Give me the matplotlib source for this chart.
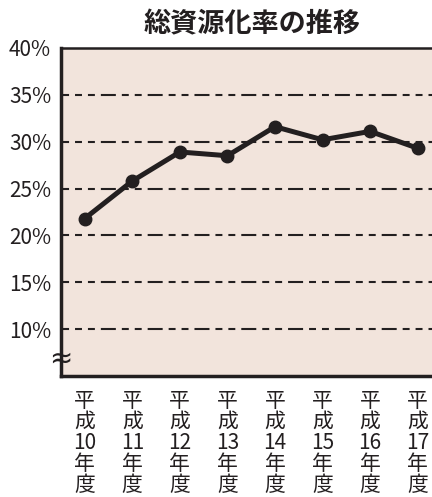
import matplotlib.pyplot as plt

plt.rcParams['font.family'] = ['Noto Sans CJK JP', 'DejaVu Sans']
plt.rcParams['lines.scale_dashes'] = False

# data
years = ['10', '11', '12', '13', '14', '15', '16', '17']
rates = [21.8, 25.8, 28.9, 28.5, 31.6, 30.2, 31.1, 29.3]
yticks = [10, 15, 20, 25, 30, 35, 40]

fig = plt.figure(figsize=(4.32, 4.97), dpi=100)
ax = fig.add_axes([0.141, 0.2435, 0.859, 0.66])
ax.set_facecolor('#f2e4dc')

# dashed grid lines: long, short, short
for y in yticks[:-1]:
    ax.axhline(y, color='#231f20', lw=1.5,
               linestyle=(5.0, (10.8, 4.3, 5.0, 4.3, 5.0, 4.3)), zorder=1)

x = list(range(len(years)))
ax.plot(x, rates, color='#231f20', lw=3.6, marker='o', ms=9, zorder=3, clip_on=False)

ax.set_xlim(-0.5, 7.3)
ax.set_ylim(5, 40)
ax.set_yticks(yticks)
ax.set_yticklabels([f'{v}%' for v in yticks], fontsize=15, color='#231f20')
ax.set_xticks(x)
ax.set_xticklabels(['平\n成\n' + y + '\n年\n度' for y in years], fontsize=15,
                   linespacing=0.95, color='#231f20')
ax.tick_params(length=0)
ax.tick_params(axis='y', pad=7)
ax.tick_params(axis='x', pad=10)

for s in ['left', 'bottom', 'top']:
    ax.spines[s].set_linewidth(2.5)
    ax.spines[s].set_color('#231f20')
ax.spines['right'].set_visible(False)
ax.spines['top'].set_linewidth(1.8)

# axis break mark
ax.text(-0.5, 6.8, '≈', fontsize=20, ha='center', va='center', color='#231f20',
        family='DejaVu Sans', clip_on=False)

fig.text(0.583, 0.95, '総資源化率の推移', fontsize=19.5, fontweight='bold', ha='center',
         va='center', color='#231f20')

fig.savefig('out.png', dpi=100)
